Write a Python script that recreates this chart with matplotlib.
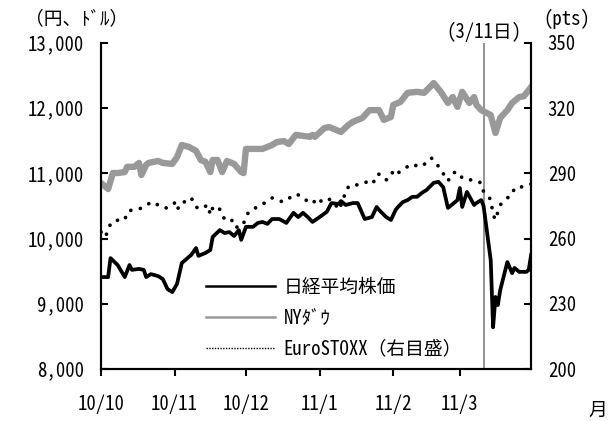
import matplotlib
matplotlib.use('Agg')
import matplotlib.pyplot as plt
from matplotlib.lines import Line2D
import pandas as pd

plt.rcParams['font.family'] = ['Noto Sans Mono CJK JP', 'Noto Sans CJK JP', 'DejaVu Sans']

# 日経平均株価 (円)
nikkei_dates = ['2010-10-01', '2010-10-04', '2010-10-05', '2010-10-08', '2010-10-11', '2010-10-13',
                '2010-10-14', '2010-10-17', '2010-10-19', '2010-10-20', '2010-10-22', '2010-10-25',
                '2010-10-27', '2010-10-29', '2010-10-31', '2010-11-02', '2010-11-04', '2010-11-07',
                '2010-11-08', '2010-11-10', '2010-11-11', '2010-11-14', '2010-11-16', '2010-11-17',
                '2010-11-20', '2010-11-22', '2010-11-24', '2010-11-26', '2010-11-28', '2010-11-29',
                '2010-12-01', '2010-12-04', '2010-12-06', '2010-12-08', '2010-12-10', '2010-12-12',
                '2010-12-15', '2010-12-18', '2010-12-21', '2010-12-23', '2010-12-25', '2010-12-27',
                '2010-12-29', '2011-01-01', '2011-01-04', '2011-01-06', '2011-01-09', '2011-01-10',
                '2011-01-12', '2011-01-15', '2011-01-17', '2011-01-20', '2011-01-23', '2011-01-25',
                '2011-01-26', '2011-01-29', '2011-01-31', '2011-02-02', '2011-02-03', '2011-02-05',
                '2011-02-07', '2011-02-09', '2011-02-11', '2011-02-13', '2011-02-15', '2011-02-18',
                '2011-02-20', '2011-02-22', '2011-02-24', '2011-02-26', '2011-02-28', '2011-03-01',
                '2011-03-02', '2011-03-04', '2011-03-07', '2011-03-08', '2011-03-10', '2011-03-11',
                '2011-03-14', '2011-03-15', '2011-03-16', '2011-03-17', '2011-03-18', '2011-03-21',
                '2011-03-23', '2011-03-24', '2011-03-26', '2011-03-29', '2011-03-30', '2011-03-31']
nikkei = [9410, 9410, 9700, 9595, 9410, 9595,
          9520, 9535, 9520, 9410, 9455, 9425,
          9380, 9225, 9180, 9305, 9625, 9720,
          9750, 9855, 9735, 9780, 9825, 10025,
          10130, 10085, 10100, 10040, 10130, 9980,
          10180, 10180, 10240, 10255, 10225, 10300,
          10300, 10240, 10395, 10330, 10395, 10330,
          10255, 10330, 10410, 10545, 10530, 10575,
          10515, 10545, 10545, 10300, 10330, 10485,
          10440, 10330, 10285, 10440, 10485, 10560,
          10590, 10640, 10640, 10700, 10745, 10855,
          10870, 10790, 10470, 10530, 10590, 10775,
          10485, 10715, 10515, 10545, 10590, 10500,
          9670, 8640, 9105, 8980, 9210, 9640,
          9470, 9550, 9490, 9490, 9520, 9750]

# NYダウ (ドル)
dow_dates = ['2010-10-01', '2010-10-04', '2010-10-06', '2010-10-08', '2010-10-11', '2010-10-12',
             '2010-10-15', '2010-10-17', '2010-10-18', '2010-10-20', '2010-10-21', '2010-10-25',
             '2010-10-27', '2010-10-31', '2010-11-02', '2010-11-04', '2010-11-07', '2010-11-10',
             '2010-11-12', '2010-11-14', '2010-11-16', '2010-11-17', '2010-11-19', '2010-11-21',
             '2010-11-23', '2010-11-26', '2010-11-29', '2010-11-30', '2010-12-01', '2010-12-08',
             '2010-12-12', '2010-12-14', '2010-12-17', '2010-12-19', '2010-12-22', '2010-12-25',
             '2010-12-28', '2010-12-29', '2010-12-30', '2011-01-03', '2011-01-05', '2011-01-10',
             '2011-01-13', '2011-01-15', '2011-01-19', '2011-01-22', '2011-01-26', '2011-01-28',
             '2011-01-31', '2011-02-01', '2011-02-04', '2011-02-07', '2011-02-11', '2011-02-14',
             '2011-02-18', '2011-02-21', '2011-02-24', '2011-02-26', '2011-02-28', '2011-03-02',
             '2011-03-05', '2011-03-07', '2011-03-08', '2011-03-10', '2011-03-14', '2011-03-16',
             '2011-03-18', '2011-03-21', '2011-03-23', '2011-03-26', '2011-03-28', '2011-03-31']
dow = [10850, 10760, 11005, 11005, 11020, 11100,
       11100, 11160, 10975, 11130, 11160, 11190,
       11160, 11145, 11250, 11435, 11405, 11345,
       11205, 11175, 11020, 11205, 11205, 11020,
       11190, 11145, 11020, 11005, 11375, 11375,
       11435, 11480, 11495, 11450, 11590, 11575,
       11560, 11590, 11560, 11695, 11710, 11635,
       11740, 11790, 11850, 11970, 11970, 11820,
       11865, 12050, 12095, 12235, 12250, 12235,
       12385, 12250, 12080, 12170, 12020, 12250,
       12080, 12170, 12050, 11970, 11895, 11620,
       11850, 11970, 12080, 12170, 12185, 12325]

# EuroSTOXX (pts, 右目盛)
euro_dates = ['2010-10-01', '2010-10-03', '2010-10-04', '2010-10-06', '2010-10-09', '2010-10-11',
              '2010-10-12', '2010-10-14', '2010-10-17', '2010-10-20', '2010-10-22', '2010-10-25',
              '2010-10-27', '2010-10-29', '2010-11-01', '2010-11-02', '2010-11-04', '2010-11-06',
              '2010-11-08', '2010-11-10', '2010-11-12', '2010-11-15', '2010-11-16', '2010-11-17',
              '2010-11-19', '2010-11-21', '2010-11-22', '2010-11-25', '2010-11-26', '2010-11-29',
              '2010-12-01', '2010-12-02', '2010-12-04', '2010-12-06', '2010-12-10', '2010-12-12',
              '2010-12-15', '2010-12-17', '2010-12-20', '2010-12-22', '2010-12-25', '2010-12-27',
              '2010-12-29', '2010-12-31', '2011-01-02', '2011-01-04', '2011-01-07', '2011-01-09',
              '2011-01-11', '2011-01-12', '2011-01-14', '2011-01-17', '2011-01-19', '2011-01-20',
              '2011-01-23', '2011-01-24', '2011-01-26', '2011-01-29', '2011-01-31', '2011-02-01',
              '2011-02-03', '2011-02-06', '2011-02-09', '2011-02-12', '2011-02-15', '2011-02-17',
              '2011-02-19', '2011-02-21', '2011-02-23', '2011-02-24', '2011-02-26', '2011-02-28',
              '2011-03-02', '2011-03-04', '2011-03-07', '2011-03-10', '2011-03-11', '2011-03-14',
              '2011-03-15', '2011-03-16', '2011-03-17', '2011-03-18', '2011-03-21', '2011-03-23',
              '2011-03-24', '2011-03-27', '2011-03-31']
euro = [263.0, 260.7, 264.9, 268.1, 268.6, 268.6,
        272.2, 273.2, 273.6, 275.0, 276.9, 275.5,
        274.1, 274.1, 276.4, 273.2, 276.9, 276.9,
        278.7, 274.5, 273.6, 275.5, 270.9, 274.1,
        275.0, 271.8, 268.6, 268.6, 265.3, 265.3,
        269.0, 272.2, 273.2, 275.0, 276.9, 278.7,
        277.3, 276.9, 279.2, 280.5, 279.2, 276.9,
        277.8, 275.5, 277.8, 278.7, 276.9, 273.2,
        277.8, 282.4, 284.7, 284.7, 285.6, 285.6,
        287.4, 286.0, 289.7, 287.0, 288.3, 291.6,
        290.2, 292.5, 294.3, 292.9, 294.8, 297.1,
        294.8, 291.6, 288.3, 286.5, 290.2, 290.7,
        287.9, 287.0, 287.0, 285.6, 281.5, 278.0,
        271.0, 268.6, 272.2, 275.5, 278.7, 280.1,
        283.3, 283.8, 285.1]

month_ticks = ['2010-10-01', '2010-11-01', '2010-12-01', '2011-01-01', '2011-02-01', '2011-03-01']
month_labels = ['10/10', '10/11', '10/12', '11/1', '11/2', '11/3']
quake_date = '2011-03-11'

fs = 13.5

fig = plt.figure(figsize=(6.14, 4.21), dpi=100)
ax = fig.add_axes([0.1645, 0.1235, 0.7005, 0.7745])
ax2 = ax.twinx()

ax.plot(pd.to_datetime(dow_dates), dow, color='#999999', linewidth=4.6, solid_joinstyle='round', zorder=3)
ax.plot(pd.to_datetime(nikkei_dates), nikkei, color='black', linewidth=2.7, solid_joinstyle='round', zorder=4)
ax2.plot(pd.to_datetime(euro_dates), euro, color='black', linewidth=2.7,
         linestyle=(0, (0.01, 2.6)), dash_capstyle='round')
ax.axvline(pd.Timestamp(quake_date), color='#808080', linewidth=1.2, zorder=2)

ax.set_xlim(pd.Timestamp('2010-10-01'), pd.Timestamp('2011-03-31'))
ax.set_ylim(8000, 13000)
ax2.set_ylim(200, 350)
ax.set_yticks(range(8000, 13001, 1000))
ax.set_yticklabels([f'{v:,}' for v in range(8000, 13001, 1000)])
ax2.set_yticks(range(200, 351, 30))
ax.set_xticks(pd.to_datetime(month_ticks))
ax.set_xticklabels(month_labels)

for a in (ax, ax2):
    a.spines['top'].set_visible(False)
    for s in a.spines.values():
        s.set_linewidth(1.5)
ax.tick_params(axis='y', direction='in', length=5, width=1.5, pad=12, labelsize=fs)
ax2.tick_params(axis='y', direction='in', length=5, width=1.5, pad=12, labelsize=fs)
ax.tick_params(axis='x', direction='out', length=5, width=1.5, pad=13, labelsize=fs)

fig.text(0.04, 0.955, '（円、ﾄﾞﾙ）', fontsize=fs, ha='left', va='center')
fig.text(0.885, 0.955, '(pts)', fontsize=fs, ha='left', va='center')
fig.text(0.974, 0.025, '月', fontsize=fs, ha='center', va='center')
ax.text(pd.Timestamp(quake_date), 13000 + 20, '(3/11日)', fontsize=fs, ha='center', va='bottom')

handles = [Line2D([], [], color='black', linewidth=1.8),
           Line2D([], [], color='#999999', linewidth=1.8),
           Line2D([], [], color='black', linewidth=1.0, linestyle=(0, (1, 1)))]
labels = ['日経平均株価', 'NYﾀﾞｳ', 'EuroSTOXX（右目盛）']
fig.legend(handles, labels, loc='upper left', bbox_to_anchor=(0.32, 0.362), frameon=False,
           fontsize=fs, handlelength=3.7, handletextpad=0.45, labelspacing=0.62, borderpad=0)

fig.savefig('out.png', dpi=100)
